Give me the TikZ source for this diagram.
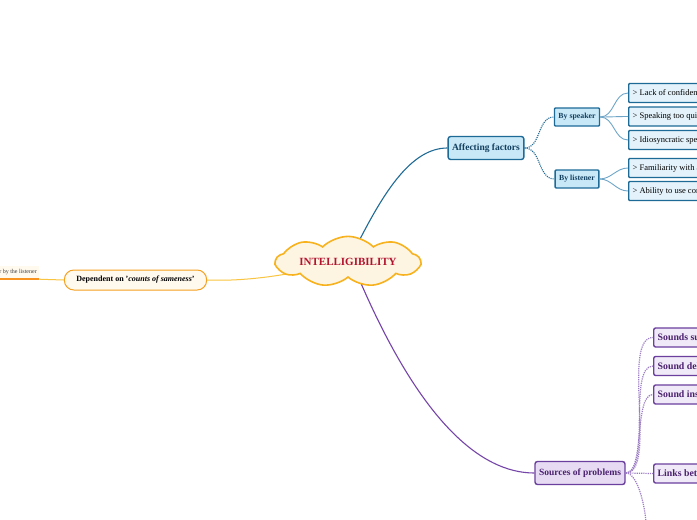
\documentclass[tikz,border=0pt]{standalone}
\usepackage{fontspec}
\setmainfont{Liberation Serif}
\usetikzlibrary{shapes.symbols}
\definecolor{cloudfill}{HTML}{FDF5E2}
\definecolor{cloudline}{HTML}{F7B21E}
\definecolor{titlered}{HTML}{B2132E}
\definecolor{blueline}{HTML}{1F6B96}
\definecolor{blueborder}{HTML}{1D6A97}
\definecolor{bluefill}{HTML}{C8E8F8}
\definecolor{leaffill}{HTML}{E4F3FB}
\definecolor{bluetext}{HTML}{123F5E}
\definecolor{leafline}{HTML}{6FA6C8}
\definecolor{purpline}{HTML}{7545A9}
\definecolor{purpborder}{HTML}{6A3F9E}
\definecolor{purpfill}{HTML}{E7DBF4}
\definecolor{purpleaf}{HTML}{F0E9F8}
\definecolor{purptext}{HTML}{4A216F}
\definecolor{purpdot}{HTML}{9C7CC4}
\definecolor{orangeline}{HTML}{F9C440}
\definecolor{orangeborder}{HTML}{F5A020}
\definecolor{depfill}{HTML}{FFF9EE}
\definecolor{underl}{HTML}{F7931E}
\tikzset{
  mainbox/.style={draw=blueborder, fill=bluefill, line width=1.4pt, rounded corners=2.5pt,
    inner xsep=4pt, minimum height=23pt, text=bluetext, font=\fontsize{9.5}{11}\selectfont\bfseries},
  subbox/.style={draw=blueborder, fill=bluefill, line width=1.4pt, rounded corners=1pt,
    inner xsep=4pt, minimum height=18pt, text=bluetext, font=\fontsize{7.8}{9}\selectfont\bfseries},
  leafbox/.style={draw=blueborder, fill=leaffill, line width=1.3pt, rounded corners=1pt,
    inner xsep=4pt, minimum height=19pt, anchor=west, text=black, font=\fontsize{8.5}{10}\selectfont},
  pmain/.style={draw=purpborder, fill=purpfill, line width=1.4pt, rounded corners=2.5pt,
    inner xsep=4pt, minimum height=23pt, text=purptext, font=\fontsize{9.5}{11}\selectfont\bfseries},
  pleaf/.style={draw=purpborder, fill=purpleaf, line width=1.4pt, rounded corners=2pt,
    inner xsep=4pt, minimum height=19pt, anchor=west, text=purptext, font=\fontsize{9.8}{11}\selectfont\bfseries},
  bconn/.style={blueline, line width=1.1pt},
  bdot/.style={blueline, line width=1.1pt, densely dotted},
  lconn/.style={leafline, line width=0.9pt},
  pconn/.style={purpline, line width=1.1pt},
  pdot/.style={purpdot, line width=1.2pt, densely dotted},
}
\begin{document}
\begin{tikzpicture}[x=1pt,y=-1pt]
\path[use as bounding box] (0,0) rectangle (697,520);
\clip (0,0) rectangle (697,520);
\fill[white] (0,0) rectangle (697,520);

% connectors from the centre
\coordinate (ctop) at (358,243);
\coordinate (cbot) at (360,281);
\coordinate (cleft) at (292,273);

% nodes
\node[mainbox] (aff) at (486,148) {Affecting factors};
\node[subbox] (spk) at (577,117) {By speaker};
\node[subbox] (lis) at (577,179) {By listener};
\node[leafbox] (l1) at (628,93) {> Lack of confidence};
\node[leafbox] (l2) at (628,116.5) {> Speaking too quickly};
\node[leafbox] (l3) at (628,140) {> Idiosyncratic speech};
\node[leafbox] (l4) at (628,168) {> Familiarity with accent};
\node[leafbox] (l5) at (628,191) {> Ability to use context};

\node[pmain] (src) at (580,473) {Sources of problems};
\node[pleaf] (s1) at (653,337.5) {Sounds substituted};
\node[pleaf] (s2) at (653,366) {Sound deleted};
\node[pleaf] (s3) at (653,394.5) {Sound inserted};
\node[pleaf] (s4) at (653,473.5) {Links between words};
\coordinate (s5) at (646,525);

\node[draw=orangeborder, fill=depfill, line width=1pt, rounded corners=9.5pt, minimum height=20pt,
  inner xsep=12pt, font=\fontsize{8}{9}\selectfont\bfseries] (dep) at (135.5,280)
  {Dependent on '\textit{counts of sameness}'};
\node[fill=depfill, anchor=east, inner sep=2pt, minimum height=13pt,
  font=\fontsize{6}{7}\selectfont, text=black!75] (lst) at (39,272.5) {perceived as similar by the listener};
\draw[underl, line width=1.6pt] (lst.south west) -- (lst.south east);

% edges
\draw[bconn] (ctop) .. controls (385,190) and (412,148) .. (aff.west);
\draw[bdot] (aff.east) to[out=0,in=180] (spk.west);
\draw[bdot] (aff.east) to[out=0,in=180] (lis.west);
\foreach \n in {l1,l2,l3} \draw[lconn] (spk.east) to[out=0,in=180] (\n.west);
\foreach \n in {l4,l5} \draw[lconn] (lis.east) to[out=0,in=180] (\n.west);

\draw[pconn] (cbot) .. controls (420,420) and (480,473) .. (src.west);
\foreach \n in {s1,s2,s3} \draw[pdot] (src.east) to[out=0,in=180,looseness=0.6] (\n.west);
\draw[pdot] (src.east) -- (s4.west);
\draw[pdot] (src.east) to[out=0,in=90,looseness=0.6] (s5);

\draw[orangeline, line width=1pt] (cleft) .. controls (260,279) and (230,281) .. (dep.east);
\draw[orangeline, line width=1pt] (dep.west) -- (lst.south east);

% central cloud
\node[cloud, cloud puffs=9, cloud puff arc=90, aspect=4.2, draw=cloudline, fill=cloudfill,
  line width=1.6pt, minimum width=144pt, minimum height=40pt, inner sep=0pt,
  text=titlered, font=\fontsize{11}{13}\selectfont\bfseries] (root) at (348,261.5) {INTELLIGIBILITY};
\end{tikzpicture}
\end{document}
